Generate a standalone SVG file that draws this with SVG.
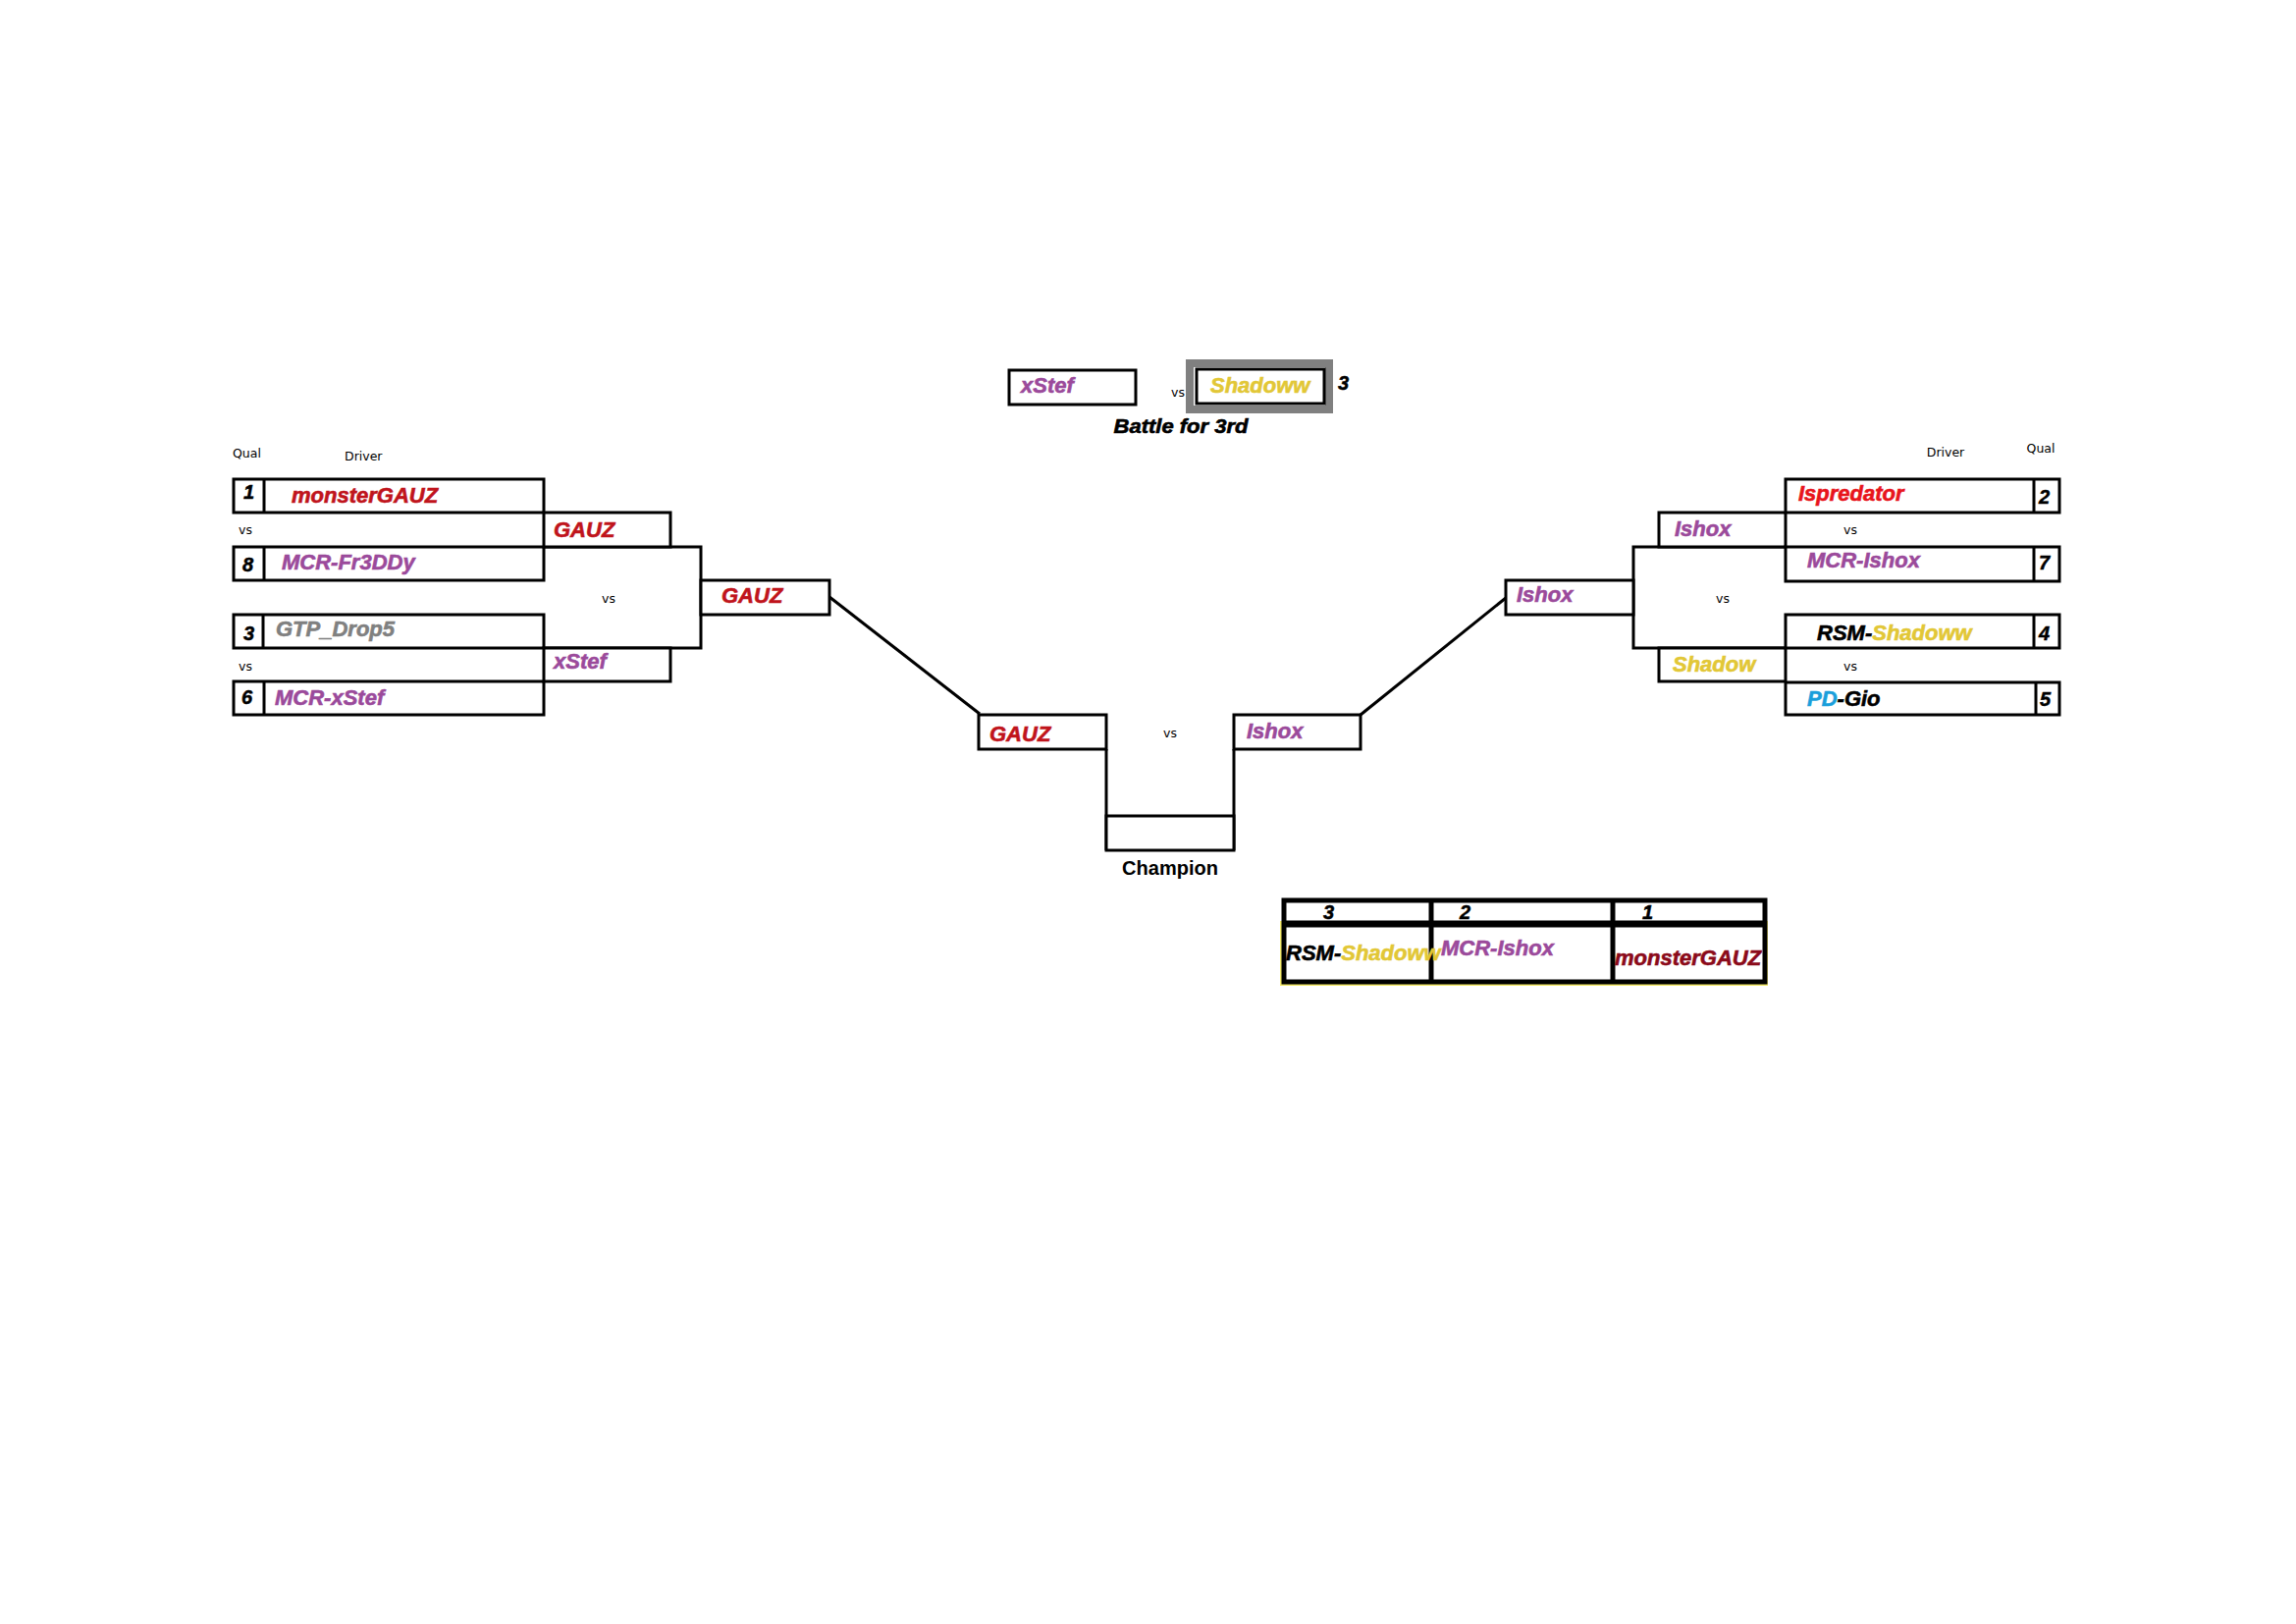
<svg xmlns="http://www.w3.org/2000/svg" width="2339" height="1654" viewBox="0 0 2339 1654">
<style>
.b{fill:#fff;stroke:#000;stroke-width:3}
.ln{fill:none;stroke:#000;stroke-width:3}
.n{font-family:"Liberation Sans",Arial,sans-serif;font-weight:bold;font-style:italic;font-size:22px;stroke-width:0.6px}
.q{font-family:"Liberation Sans",Arial,sans-serif;font-weight:bold;font-style:italic;font-size:20px;fill:#000;stroke:#000;stroke-width:0.5px}
.s{font-family:"DejaVu Sans",sans-serif;font-size:12.5px;fill:#000}
.red{fill:#c0141c;stroke:#c0141c}
.brt{fill:#e8141c;stroke:#e8141c}
.pur{fill:#9b4a9b;stroke:#9b4a9b}
.gry{fill:#808080;stroke:#808080}
.gld{fill:#e2c736;stroke:#e2c736}
.blu{fill:#1a9fdb;stroke:#1a9fdb}
.blk{fill:#000;stroke:#000}
.mar{fill:#8b0a1a;stroke:#8b0a1a}
</style>
<rect width="2339" height="1654" fill="#fff"/>

<g id="headers">
<text class="s" x="237" y="466">Qual</text>
<text class="s" x="351" y="469">Driver</text>
<text class="s" x="1982" y="465" text-anchor="middle">Driver</text>
<text class="s" x="2079" y="461" text-anchor="middle">Qual</text>
</g>

<g id="connectors">
<path class="ln" d="M554 557 H714 V660 H554"/>
<path class="ln" d="M1819 557 H1664 V660 H1819"/>
<line class="ln" x1="845" y1="608" x2="998" y2="727"/>
<line class="ln" x1="1386" y1="728" x2="1534" y2="609"/>
<path class="ln" d="M1127 763 V866"/>
<path class="ln" d="M1257 763 V866"/>
</g>

<g id="seed1">
<rect class="b" x="238" y="488" width="316" height="34"/>
<line class="ln" x1="269" y1="488" x2="269" y2="522"/>
<text class="q" x="248" y="508">1</text>
<text class="n red" x="297" y="512">monsterGAUZ</text>
</g>
<text class="s" x="243" y="544">vs</text>
<g id="seed8">
<rect class="b" x="238" y="557" width="316" height="34"/>
<line class="ln" x1="269" y1="557" x2="269" y2="591"/>
<text class="q" x="247" y="582">8</text>
<text class="n pur" x="287" y="580">MCR-Fr3DDy</text>
</g>
<g id="seed3">
<rect class="b" x="238" y="626" width="316" height="34"/>
<line class="ln" x1="268" y1="626" x2="268" y2="660"/>
<text class="q" x="248" y="652">3</text>
<text class="n gry" x="281" y="648">GTP_Drop5</text>
</g>
<text class="s" x="243" y="683">vs</text>
<g id="seed6">
<rect class="b" x="238" y="694" width="316" height="34"/>
<line class="ln" x1="269" y1="694" x2="269" y2="728"/>
<text class="q" x="246" y="717">6</text>
<text class="n pur" x="280" y="718">MCR-xStef</text>
</g>

<g id="r1-left-top">
<rect class="b" x="554" y="522" width="129" height="35"/>
<text class="n red" x="564" y="547">GAUZ</text>
</g>
<g id="r1-left-bottom">
<rect class="b" x="554" y="660" width="129" height="34"/>
<text class="n pur" x="564" y="681">xStef</text>
</g>
<text class="s" x="620" y="614" text-anchor="middle">vs</text>

<g id="semi-left">
<rect class="b" x="714" y="591" width="131" height="35"/>
<text class="n red" x="735" y="614">GAUZ</text>
</g>

<g id="final-left">
<rect class="b" x="997" y="728" width="130" height="35"/>
<text class="n red" x="1008" y="755">GAUZ</text>
</g>
<text class="s" x="1192" y="751" text-anchor="middle">vs</text>
<g id="final-right">
<rect class="b" x="1257" y="728" width="129" height="35"/>
<text class="n pur" x="1270" y="752">Ishox</text>
</g>
<g id="champion">
<rect class="b" x="1127" y="831" width="130" height="35"/>
<text x="1192" y="891" text-anchor="middle" font-family="Liberation Sans, Arial, sans-serif" font-weight="bold" font-size="20">Champion</text>
</g>

<g id="semi-right">
<rect class="b" x="1534" y="591" width="130" height="35"/>
<text class="n pur" x="1545" y="613">Ishox</text>
</g>
<text class="s" x="1755" y="614" text-anchor="middle">vs</text>
<g id="r1-right-top">
<rect class="b" x="1690" y="522" width="129" height="35"/>
<text class="n pur" x="1706" y="546">Ishox</text>
</g>
<g id="r1-right-bottom">
<rect class="b" x="1690" y="660" width="129" height="34"/>
<text class="n gld" x="1704" y="684">Shadow</text>
</g>

<g id="seed2">
<rect class="b" x="1819" y="488" width="279" height="34"/>
<line class="ln" x1="2072" y1="488" x2="2072" y2="522"/>
<text class="n brt" x="1832" y="510">Ispredator</text>
<text class="q" x="2077" y="513">2</text>
</g>
<text class="s" x="1885" y="544" text-anchor="middle">vs</text>
<g id="seed7">
<rect class="b" x="1819" y="557" width="279" height="35"/>
<line class="ln" x1="2072" y1="557" x2="2072" y2="592"/>
<text class="n pur" x="1841" y="578">MCR-Ishox</text>
<text class="q" x="2077" y="580">7</text>
</g>
<g id="seed4">
<rect class="b" x="1819" y="626" width="279" height="34"/>
<line class="ln" x1="2072" y1="626" x2="2072" y2="660"/>
<text class="n" x="1851" y="652"><tspan class="blk">RSM-</tspan><tspan class="gld">Shadoww</tspan></text>
<text class="q" x="2077" y="652">4</text>
</g>
<text class="s" x="1885" y="683" text-anchor="middle">vs</text>
<g id="seed5">
<rect class="b" x="1819" y="695" width="279" height="33"/>
<line class="ln" x1="2074" y1="695" x2="2074" y2="728"/>
<text class="n" x="1841" y="719"><tspan class="blu">PD</tspan><tspan class="blk">-Gio</tspan></text>
<text class="q" x="2078" y="719">5</text>
</g>

<g id="third-left">
<rect class="b" x="1028" y="377" width="129" height="35"/>
<text class="n pur" x="1040" y="400">xStef</text>
</g>
<text class="s" x="1193" y="404">vs</text>
<g id="third-right">
<rect x="1212" y="370" width="142" height="47" fill="#fff" stroke="#808080" stroke-width="8"/>
<rect class="b" x="1219" y="376" width="130" height="35"/>
<text class="n gld" x="1233" y="400">Shadoww</text>
<text class="q" x="1363" y="397">3</text>
</g>
<text x="1203" y="441" text-anchor="middle" font-family="Liberation Sans, Arial, sans-serif" font-weight="bold" font-style="italic" font-size="20" stroke="#000" stroke-width="0.6" textLength="137" lengthAdjust="spacingAndGlyphs">Battle for 3rd</text>

<g id="podium">
<rect x="1305" y="939" width="495" height="64" fill="none" stroke="#f2e86a" stroke-width="2"/>
<rect x="1308" y="917" width="490" height="83" fill="#fff" stroke="#000" stroke-width="5"/>
<line x1="1308" y1="941" x2="1798" y2="941" stroke="#000" stroke-width="7"/>
<line x1="1458" y1="917" x2="1458" y2="1000" stroke="#000" stroke-width="5"/>
<line x1="1643" y1="917" x2="1643" y2="1000" stroke="#000" stroke-width="5"/>
<text class="q" x="1348" y="936">3</text>
<text class="q" x="1487" y="936">2</text>
<text class="q" x="1673" y="936">1</text>
<text class="n" x="1310" y="978"><tspan class="blk">RSM-</tspan><tspan class="gld">Shadoww</tspan></text>
<text class="n pur" x="1468" y="973" font-size="21">MCR-Ishox</text>
<text class="n mar" x="1645" y="983">monsterGAUZ</text>
</g>
</svg>
